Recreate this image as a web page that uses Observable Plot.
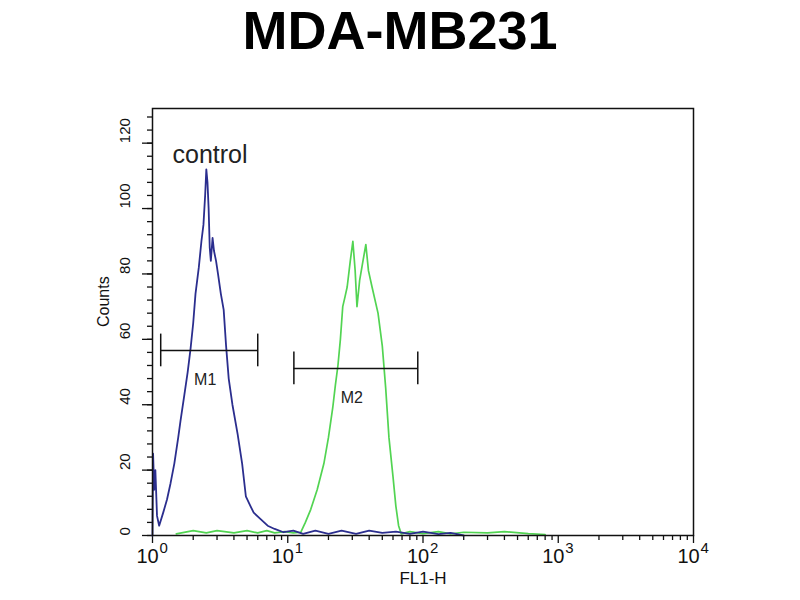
<!DOCTYPE html>
<html>
<head>
<meta charset="utf-8">
<script src="https://cdn.jsdelivr.net/npm/d3@7"></script>
<script src="https://cdn.jsdelivr.net/npm/@observablehq/plot@0.6"></script>
<style>
  body { margin: 0; background: #fff; font-family: "Liberation Sans", Arial, sans-serif; }
  #title { height: 60px; line-height: 60px; text-align: center; font-size: 54px; font-weight: bold; color: #000; }
</style>
</head>
<body>
<div id="title">MDA-MB231</div>
<div id="vis"></div>
<script>
// control histogram (blue)
const blueX = [1.0, 1.01, 1.03, 1.05, 1.08, 1.12, 1.2, 1.28, 1.36, 1.45, 1.55, 1.61, 1.72, 1.82, 1.91, 2.0, 2.08, 2.2, 2.3, 2.38, 2.45, 2.5, 2.55, 2.6, 2.65, 2.7, 2.78, 2.85, 2.95, 3.05, 3.2, 3.36, 3.5, 3.66, 3.9, 4.26, 4.6, 4.9, 5.3, 5.6, 6.3, 7.1, 8.0, 9.3, 11, 13, 16, 20, 25, 32, 40, 50, 63, 80, 100, 130, 160, 200]
const blueY = [0, 25, 14, 20, 6, 3, 7, 11, 16, 22, 30, 35, 43, 50, 57, 65, 74, 82, 90, 95, 104, 112, 108, 100, 88, 84, 91, 87, 84, 80, 74, 69, 58, 48, 40, 31, 22, 12, 9, 7, 5, 3, 2, 1, 1.5, 0.5, 1.5, 0.5, 1.5, 0.5, 1.5, 0.8, 1.2, 0.5, 1.2, 0.4, 0.8, 0]

// stained sample (green)
const greenX = [1.5, 2, 2.5, 3, 4, 5, 6, 7, 8, 9.5, 11, 12.5, 13.5, 14.8, 16.5, 18.5, 20, 21.5, 22.5, 23.5, 24.5, 25.5, 26.5, 27.5, 29, 30.3, 31.5, 32.5, 34, 36, 37.8, 39.5, 42, 46.5, 50, 53, 56, 60, 63, 66, 69, 80, 100, 130, 160, 200, 300, 400, 600, 800]
const greenY = [0.5, 1.5, 0.8, 1.5, 0.8, 1.5, 0.8, 1.5, 0.8, 1.2, 0.8, 1, 4, 8, 14, 22, 30, 39, 46, 52, 60, 70, 73, 76, 84, 90, 81, 70, 78, 84, 89, 81, 76, 68, 58, 45, 30, 18, 9, 3, 0.5, 1.2, 0.6, 1.2, 0.5, 1, 0.8, 1.2, 0.6, 0.3]

// gates
const markerLabels = ["M1", "M2"]
const markerStart = [1.15, 11.1]
const markerEnd = [6.0, 91.5]
const markerCount = [56.6, 51.1]

const yTicks = [0, 20, 40, 60, 80, 100, 120]
const yMinor = d3.range(0, 131, 4)
const decades = [1, 10, 100, 1000, 10000]
const xMinor = decades.slice(0, 4).flatMap(d => d3.range(2, 10).map(k => k * d))

const blue = blueX.map((x, i) => ({x, y: blueY[i]}))
const green = greenX.map((x, i) => ({x, y: greenY[i]}))
const markers = markerLabels.map((label, i) => ({
  label, x1: markerStart[i], x2: markerEnd[i], y: markerCount[i],
  xm: Math.sqrt(markerStart[i] * markerEnd[i])
}))

const font = "Liberation Sans, Arial, sans-serif"

let chart = Plot.plot({
  width: 800,
  height: 540,
  marginTop: 48,
  marginBottom: 65,
  marginLeft: 152,
  marginRight: 107,
  x: {type: "log", domain: [1, 10000], axis: null},
  y: {domain: [0, 130.6], axis: null},
  style: {fontFamily: font, background: "white", color: "#111"},
  marks: [
    // ticks
    Plot.axisY({ticks: yMinor, tickSize: 5, tickFormat: () => "", anchor: "left", label: null, strokeWidth: 1.3}),
    Plot.axisY({ticks: yTicks, tickSize: 10, tickFormat: () => "", anchor: "left", label: null, strokeWidth: 1.3}),
    Plot.axisX({ticks: xMinor, tickSize: 5, tickFormat: () => "", anchor: "bottom", label: null, strokeWidth: 1.3}),
    Plot.axisX({ticks: decades, tickSize: 8, tickFormat: () => "", anchor: "bottom", label: null, strokeWidth: 1.3}),
    // y labels (rotated)
    Plot.text(yTicks, {y: d => d, text: d => String(d), frameAnchor: "left", dx: -27, rotate: -90, fontSize: 15}),
    Plot.text(["Counts"], {text: d => d, frameAnchor: "left", dx: -49, dy: 5, rotate: -90, fontSize: 16}),
    // x labels 10^n
    Plot.text(decades, {x: d => d, text: () => "10", frameAnchor: "bottom", dx: -5, dy: 27, fontSize: 20}),
    Plot.text(decades, {x: d => d, text: d => String(Math.round(Math.log10(d))), frameAnchor: "bottom", dx: 7, dy: 17, fontSize: 15, textAnchor: "start"}),
    Plot.text(["FL1-H"], {text: d => d, frameAnchor: "bottom", dy: 48, fontSize: 17}),
    // histograms
    Plot.line(green, {x: "x", y: "y", stroke: "#52d452", strokeWidth: 1.7}),
    Plot.line(blue, {x: "x", y: "y", stroke: "#2b2e8e", strokeWidth: 1.8}),
    // gates
    Plot.ruleY(markers, {y: "y", x1: "x1", x2: "x2", stroke: "#111", strokeWidth: 1.5}),
    Plot.ruleX(markers, {x: "x1", y1: d => d.y - 5, y2: d => d.y + 5, stroke: "#111", strokeWidth: 1.5}),
    Plot.ruleX(markers, {x: "x2", y1: d => d.y - 5, y2: d => d.y + 5, stroke: "#111", strokeWidth: 1.5}),
    Plot.text(markers, {x: "xm", y: "y", text: "label", dy: 29, dx: -4, fontSize: 16, fill: "#222"}),
    Plot.text(["control"], {text: d => d, frameAnchor: "top-left", dx: 20, dy: 37, fontSize: 25, textAnchor: "start", fill: "#222"}),
    Plot.frame({stroke: "#111", strokeWidth: 1.5})
  ]
})

d3.select('#vis').append(() => chart)
</script>
</body>
</html>
